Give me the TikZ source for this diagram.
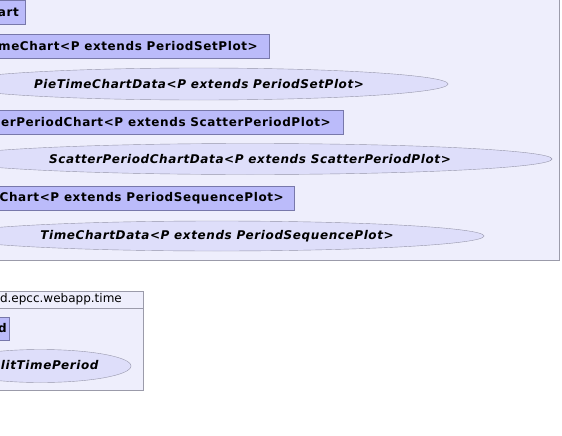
\documentclass[tikz,border=0pt]{standalone}
\usepackage{fontspec}
\setmainfont{DejaVu Sans}
\newfontfamily\umlfamily[LetterSpace=5]{DejaVu Sans}
\usetikzlibrary{shapes.geometric}
\definecolor{pkgfill}{RGB}{238,238,252}
\definecolor{pkgline}{RGB}{155,155,170}
\definecolor{clsfill}{RGB}{187,187,250}
\definecolor{clsline}{RGB}{120,120,170}
\definecolor{ifcfill}{RGB}{222,222,250}
\definecolor{ifcline}{RGB}{150,150,170}
\newcommand\clsfont{\umlfamily\bfseries\fontsize{12}{14}\selectfont}
\newcommand\ifcfont{\umlfamily\bfseries\itshape\fontsize{12}{14}\selectfont}
\newcommand\tabfont{\fontsize{12}{14}\selectfont}

\begin{document}
\begin{tikzpicture}[x=1pt,y=-1pt,pkg/.style={draw=pkgline,fill=pkgfill},
  pkgtab/.style={pkg,font=\tabfont,minimum height=17pt,inner ysep=0pt,anchor=south east},
  cls/.style={draw=clsline,fill=clsfill,font=\clsfont,minimum height=24pt,inner ysep=0pt,anchor=east},
  ifc/.style={ellipse,draw=ifcline,fill=ifcfill,font=\ifcfont,inner sep=0pt}]
\useasboundingbox (0,0) rectangle (562,436);
\clip (0,0) rectangle (562,436);
\draw[pkg] (-60,-40) rectangle (559,260);
\node[cls,inner xsep=6pt] (periodchart) at (25,12.5) {PeriodChart};
\node[cls,inner xsep=11pt] (piechart) at (269,46) {PieTimeChart<P extends PeriodSetPlot>};
\node[ifc,minimum width=498pt,minimum height=32pt] (piedata) at (199,84) {PieTimeChartData<P extends PeriodSetPlot>};
\node[cls,inner xsep=12pt] (scatterchart) at (343,122) {ScatterPeriodChart<P extends ScatterPeriodPlot>};
\node[ifc,minimum width=604pt,minimum height=31pt] (scatterdata) at (250,159) {ScatterPeriodChartData<P extends ScatterPeriodPlot>};
\node[cls,inner xsep=10pt] (timechart) at (294,198) {TimeChart<P extends PeriodSequencePlot>};
\node[ifc,minimum width=534pt,minimum height=30pt] (timedata) at (217,236) {TimeChartData<P extends PeriodSequencePlot>};
\node[pkgtab,inner xsep=21pt] (timetab) at (143,308) {uk.ac.ed.epcc.webapp.time};
\draw[pkg] (-60,308) rectangle (143,390);
\node[cls,inner xsep=2.5pt,minimum height=23pt] (period) at (9.5,328.5) {Period};
\node[ifc,minimum width=181pt,minimum height=33pt] (splitperiod) at (40.5,366) {SplitTimePeriod};
\end{tikzpicture}
\end{document}
